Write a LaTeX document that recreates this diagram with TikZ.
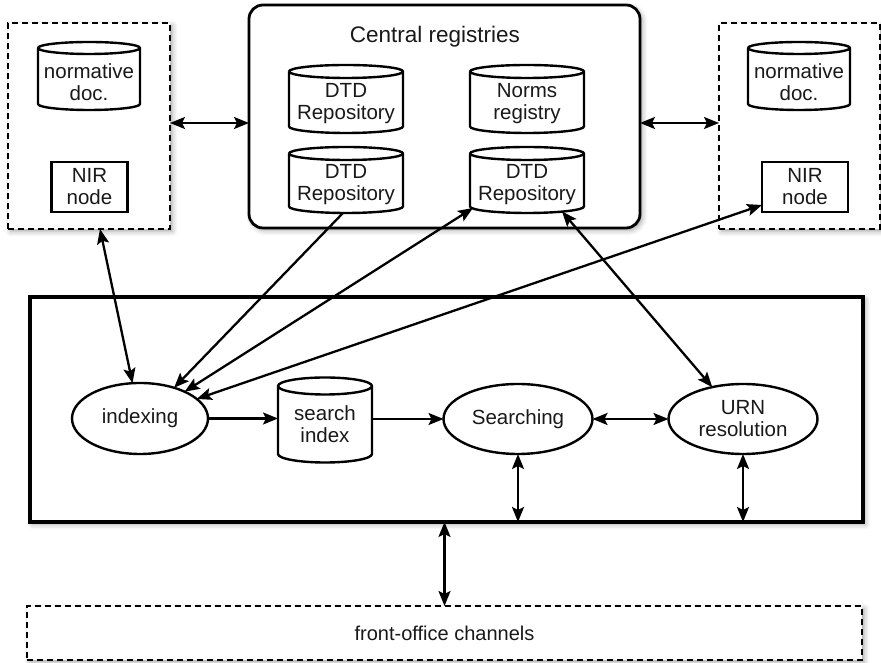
\documentclass[tikz,border=0pt]{standalone}
\usepackage{fontspec}
\setmainfont{Liberation Sans}
\usetikzlibrary{arrows.meta,shadows.blur,calc,shapes.geometric}
\newcommand\mycyl[2]{%
  \draw[cylline] let \p1=(#1.north west), \p2=(#1.south east), \n1={(\x2-\x1)/2} in
    ({\x1},{\y1-#2pt}) -- ({\x1},{\y2+#2pt})
    arc[start angle=180, end angle=360, x radius=\n1, y radius=#2pt]
    -- ({\x2},{\y1-#2pt})
    arc[start angle=0, end angle=180, x radius=\n1, y radius=#2pt]
    ({\x1},{\y1-#2pt}) arc[start angle=180, end angle=360, x radius=\n1, y radius=#2pt];}
\begin{document}
\begin{tikzpicture}[x=1pt,y=1pt,
  every node/.style={font=\fontsize{20.5}{22}\selectfont, align=center, inner sep=0pt, outer sep=0pt, text=black!90},
  shad/.style={blur shadow={shadow xshift=2.5pt, shadow yshift=-2.5pt, shadow blur radius=5pt, shadow opacity=35}},
  dbox/.style={draw, fill=white, line width=2.6pt, dash pattern=on 6pt off 4pt, shad},
  cylline/.style={line width=2.4pt},
  nir/.style={draw, line width=2.2pt, minimum height=50pt},
  proc/.style={draw, ellipse, line width=2.4pt, minimum height=70pt},
  tip/.style={},
  arr/.style={line width=2.3pt, -{Stealth[length=15pt,width=12pt,inset=3pt]}},
  darr/.style={line width=2.3pt, {Stealth[length=15pt,width=12pt,inset=3pt]}-{Stealth[length=15pt,width=12pt,inset=3pt]}}
]
\useasboundingbox (0,0) rectangle (881,663);

% outer boxes
\node[dbox, minimum width=162pt, minimum height=206pt] (lbox) at (89,537) {};
\node[dbox, minimum width=161pt, minimum height=206pt] (rbox) at (799.5,537) {};
\node[draw, fill=white, line width=2.8pt, rounded corners=14pt, shad, minimum width=391pt, minimum height=223pt] (cbox) at (444.5,546.5) {};
\node[draw, fill=white, line width=3.6pt, shad, minimum width=833pt, minimum height=225pt] (main) at (446.5,253.5) {};
\node[dbox, minimum width=835pt, minimum height=54pt] (front) at (444.5,30) {\fontsize{20}{22}\selectfont front-office channels};

% left box content
\node[minimum width=102pt, minimum height=68pt] (lcyl) at (89,587) {};
\mycyl{lcyl}{6}
\node (lcylt) at ([yshift=-6pt]lcyl.center) {\fontsize{20.5}{24}\selectfont normative\\doc.};
\node[nir, minimum width=76pt] (lnir) at (89.5,476) {NIR\\node};

% right box content
\node[minimum width=102pt, minimum height=68pt] (rcyl) at (799,587) {};
\mycyl{rcyl}{6}
\node (rcylt) at ([yshift=-6pt]rcyl.center) {\fontsize{20.5}{24}\selectfont normative\\doc.};
\node[nir, minimum width=86pt] (rnir) at (805,476) {NIR\\node};

% central registries
\node[font=\fontsize{22.5}{26}\selectfont] (ctitle) at (435,626) {Central registries};
\node[minimum width=114pt, minimum height=68pt] (dtd1) at (346,564) {};
\mycyl{dtd1}{6.5}
\node (dtd1t) at ([yshift=-5pt]dtd1.center) {DTD\\Repository};
\node[minimum width=114pt, minimum height=68pt] (norms) at (527,564) {};
\mycyl{norms}{6.5}
\node (normst) at ([yshift=-5pt]norms.center) {Norms\\registry};
\node[minimum width=114pt, minimum height=66pt] (dtd2) at (346,483) {};
\mycyl{dtd2}{6.5}
\node (dtd2t) at ([yshift=-5pt]dtd2.center) {DTD\\Repository};
\node[minimum width=114pt, minimum height=66pt] (dtd3) at (527,483) {};
\mycyl{dtd3}{6.5}
\node (dtd3t) at ([yshift=-5pt]dtd3.center) {DTD\\Repository};

% main box content
\node[proc, minimum width=136pt, minimum height=71pt] (indexing) at (140,244.5) {indexing};
\node[minimum width=94pt, minimum height=85pt] (sindex) at (325,243) {};
\mycyl{sindex}{8.5}
\node (sindext) at ([yshift=-4pt]sindex.center) {search\\index};
\node[proc, minimum width=149pt] (searching) at (518,244) {Searching};
\node[proc, minimum width=149pt] (urn) at (743,244) {URN\\resolution};

% connectors
\draw[darr] ([yshift=3pt]lbox.east) -- ([yshift=3pt]lbox.east -| cbox.west);
\draw[darr] ([yshift=3pt]rbox.west -| cbox.east) -- ([yshift=3pt]rbox.west);
\draw[darr] ([xshift=11pt]lbox.south) -- (indexing.102);
\draw[arr] ([xshift=-3pt]dtd2.south) -- (indexing.42);
\draw[darr] ([xshift=3pt,yshift=5pt]dtd3.south west) -- (indexing.31);
\draw[darr] ([yshift=7pt]rnir.south west) -- (indexing.19);
\draw[darr] ([xshift=35pt,yshift=1.5pt]dtd3.south) -- (urn.134);
\draw[arr] (indexing.east) -- (indexing.east -| sindex.west);
\draw[arr] (sindex.east |- searching.west) -- (searching.west);
\draw[darr] (searching.east) -- (urn.west);
\draw[darr] (searching.south) -- (searching.south |- main.south);
\draw[darr] (urn.south) -- (urn.south |- main.south);
\draw[darr] (front.north |- main.south) -- (front.north);
\end{tikzpicture}
\end{document}
